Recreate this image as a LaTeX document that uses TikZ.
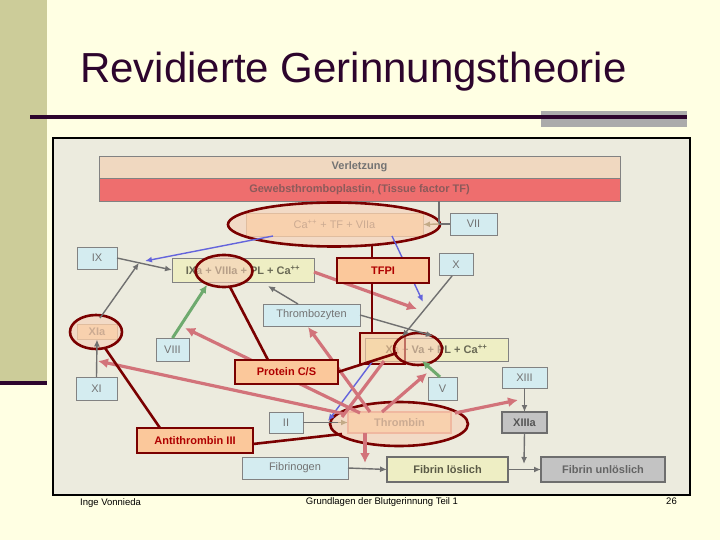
\documentclass[tikz,border=0pt]{standalone}
\usepackage{fontspec}
\setmainfont{Liberation Sans}
\usetikzlibrary{arrows.meta,calc,shapes.geometric}
\pgfdeclarelayer{fg}
\pgfsetlayers{main,fg}
\definecolor{bgc}{RGB}{255,255,227}
\definecolor{barc}{RGB}{204,204,153}
\definecolor{titlec}{RGB}{45,5,45}
\definecolor{framebg}{RGB}{236,235,222}
\definecolor{lblue}{RGB}{212,236,240}
\definecolor{peach}{RGB}{251,200,155}
\definecolor{ybox}{RGB}{238,238,196}
\definecolor{maroon}{RGB}{122,0,0}
\definecolor{dred}{RGB}{175,0,0}
\definecolor{salmon}{RGB}{210,115,122}
\definecolor{garr}{RGB}{112,112,112}
\definecolor{blarr}{RGB}{100,100,220}
\definecolor{grarr}{RGB}{110,170,110}
\definecolor{tanc}{RGB}{195,170,135}
\definecolor{ellfill}{RGB}{248,205,180}
\definecolor{verlc}{RGB}{240,216,192}
\definecolor{tfred}{RGB}{238,110,110}
\definecolor{greybox}{RGB}{195,195,195}
\definecolor{txtgray}{RGB}{115,115,115}
\definecolor{boxline}{RGB}{130,130,130}
\definecolor{olivetxt}{RGB}{105,105,85}
\definecolor{thrline}{RGB}{232,160,136}
\definecolor{thrfill}{RGB}{250,214,168}
\definecolor{gewtxt}{RGB}{140,90,90}
\definecolor{dgline}{RGB}{110,110,110}
\definecolor{dgtxt}{RGB}{85,85,85}
\definecolor{fltxt}{RGB}{90,90,70}
\definecolor{futxt}{RGB}{100,100,100}
\definecolor{elltxt}{RGB}{150,130,105}
\begin{document}
\begin{tikzpicture}[x=1pt,y=-1pt,
  font=\fontsize{11}{13}\selectfont,
  base/.style={rectangle, inner sep=0pt, outer sep=0pt, line width=0.8pt},
  bluebox/.style={base, draw=boxline, fill=lblue, text=txtgray},
  ybx/.style={base, draw=boxline, fill=ybox, text=olivetxt, font=\fontsize{11}{13}\selectfont\bfseries},
  redbox/.style={base, draw=maroon, line width=2.6pt, fill=peach, text=dred, font=\fontsize{11}{13}\selectfont\bfseries},
  ell/.style={ellipse, draw=maroon, line width=2.6pt, fill=ellfill, fill opacity=0.55, draw opacity=1, inner sep=0pt},
  gline/.style={draw=garr, line width=1.4pt},
  garrow/.style={gline, -{Latex[length=7pt,width=6pt]}},
  tanarr/.style={draw=tanc, line width=1.4pt, -{Latex[length=7pt,width=6pt]}},
  barrow/.style={draw=blarr, line width=1.4pt, -{Latex[length=7pt,width=6pt]}},
  grarrow/.style={draw=grarr, line width=3pt, -{Latex[length=8pt,width=8pt]}},
  sarrow/.style={draw=salmon, line width=3.2pt, -{Latex[length=10pt,width=10pt]}},
  sline/.style={draw=salmon, line width=3.2pt},
  inhib/.style={draw=maroon, line width=2.6pt}
]
\useasboundingbox (0,0) rectangle (720,540);
% background
\fill[bgc] (0,0) rectangle (720,540);
\fill[barc] (0,0) rectangle (47,381);
\fill[titlec] (0,381) rectangle (47,385);
% title
\node[anchor=base west, inner sep=0pt, text=titlec, font=\fontsize{42}{48}\selectfont] (title) at (80,83) {Revidierte Gerinnungstheorie};
\fill[black!33] (541,111) rectangle (687,127);
\draw[titlec, line width=4pt] (30,117) -- (687,117);
% frame
\draw[black, line width=1.3pt, fill=framebg] (53,138) rectangle (690,495);
% footer
\node[anchor=base west, inner sep=0pt, font=\fontsize{9.5}{11}\selectfont] (f1) at (80,505) {Inge Vonnieda};
\node[anchor=base, inner sep=0pt, font=\fontsize{9.5}{11}\selectfont] (f2) at (382,504) {Grundlagen der Blutgerinnung Teil 1};
\node[anchor=base east, inner sep=0pt, font=\fontsize{9.5}{11}\selectfont] (f3) at (677,504) {26};

% boxes
\node[base, draw=boxline, fill=verlc, text=txtgray, font=\fontsize{11}{13}\selectfont\bfseries, minimum width=521, minimum height=22] (verl) at (359.5,167) {Verletzung};
\node[base, draw=boxline, fill=tfred, text=gewtxt, font=\fontsize{11}{13}\selectfont\bfseries, minimum width=521, minimum height=23] (gewebs) at (359.5,189.5) {Gewebsthromboplastin, (Tissue factor TF)};
\node[base, draw=tanc, fill=thrfill, text=elltxt, minimum width=177, minimum height=23] (ca) at (334.5,224.5) {Ca\textsuperscript{++} + TF + VIIa};
\node[bluebox, minimum width=47, minimum height=22] (vii) at (473.5,224) {VII};
\node[bluebox, minimum width=40, minimum height=22] (ix) at (97,258) {IX};
\node[ybx, minimum width=142, minimum height=24] (ixa) at (243,270) {IXa + VIIIa + PL + Ca\textsuperscript{++}};
\node[bluebox, minimum width=34, minimum height=22] (xn) at (456,264.5) {X};
\node[bluebox, minimum width=97, minimum height=22] (thr) at (311.5,315) {Thrombozyten};
\node[base, draw=tanc, fill=thrfill, text=elltxt, font=\fontsize{11}{13}\selectfont\bfseries, minimum width=40, minimum height=15] (xia) at (97,332) {XIa};
\node[bluebox, minimum width=33, minimum height=23] (viii) at (172.5,349.5) {VIII};
\node[bluebox, minimum width=41, minimum height=23] (xi) at (96.5,388.5) {XI};
\node[ybx, minimum width=143, minimum height=23] (xava) at (436.5,349.5) {Xa + Va + PL + Ca\textsuperscript{++}};
\node[bluebox, minimum width=29, minimum height=23] (vn) at (442.5,388.5) {V};
\node[bluebox, minimum width=45, minimum height=21] (xiii) at (524.5,377.5) {XIII};
\node[base, draw=dgline, line width=2pt, fill=greybox, text=dgtxt, font=\fontsize{11}{13}\selectfont\bfseries, minimum width=45, minimum height=21] (xiiia) at (524.5,422.5) {XIIIa};
\node[bluebox, minimum width=34, minimum height=21] (ii) at (286,422.5) {II};
\node[base, draw=thrline, line width=2.2pt, fill=thrfill, text=elltxt, font=\fontsize{11}{13}\selectfont\bfseries, minimum width=103, minimum height=21] (thrombin) at (399.5,422.5) {Thrombin};
\node[bluebox, minimum width=106, minimum height=22] (fibrinogen) at (295,468) {Fibrinogen};
\node[base, draw=dgline, line width=2.6pt, fill=ybox, text=fltxt, font=\fontsize{11}{13}\selectfont\bfseries, minimum width=121, minimum height=25] (fibrinL) at (447.5,469.5) {Fibrin löslich};
\node[base, draw=dgline, line width=2.6pt, fill=greybox, text=futxt, font=\fontsize{11}{13}\selectfont\bfseries, minimum width=124, minimum height=25] (fibrinU) at (603,469.5) {Fibrin unlöslich};

% inhibitor boxes (drawn on foreground layer)
\begin{pgfonlayer}{fg}
\node[redbox, minimum width=92, minimum height=25] (tfpi) at (383,270.5) {TFPI};
\node[redbox, minimum width=103, minimum height=24] (protein) at (286.5,372) {Protein C/S};
\node[redbox, minimum width=116, minimum height=25] (anti) at (195,440.5) {Antithrombin III};
\end{pgfonlayer}

% TFPI rectangle around Xa
\node[base, draw=maroon, line width=2.6pt, fill=peach, fill opacity=0.6, draw opacity=1, minimum width=45, minimum height=31] (xarect) at (382.5,348.5) {};
% ellipses
\node[ell, minimum width=212, minimum height=44] (caell) at (334,224.5) {};
\node[ell, minimum width=57, minimum height=32] (ixaell) at (224,271) {};
\node[ell, minimum width=52, minimum height=34] (xiaell) at (96,332) {};
\node[ell, minimum width=48, minimum height=32] (vaell) at (418,349) {};
\node[ell, minimum width=138, minimum height=44] (thrombell) at (399,424) {};

% coordinates
\coordinate (gj) at (439,224);
\coordinate (m1s) at (100,318);
\coordinate (p5s) at (298,304);
\coordinate (p5e) at (268,286);
\coordinate (p6e) at (433,336);
\coordinate (p7s) at (452,276);
\coordinate (p7e) at (402,337);
\coordinate (fj) at (524,464);
\coordinate (b1s) at (273,236);
\coordinate (b1e) at (145,261);
\coordinate (b2s) at (392,236);
\coordinate (b2e) at (423,302);
\coordinate (b3s) at (372,362);
\coordinate (b3e) at (328,421);
\coordinate (gr1e) at (207,285);
\coordinate (gr2s) at (440,377);
\coordinate (gr2e) at (422,361);
\coordinate (s1s) at (314,272);
\coordinate (s1e) at (417,309);
\coordinate (s2s) at (360,413);
\coordinate (s2e) at (185,328);
\coordinate (s3s) at (345,414);
\coordinate (s3e) at (98,361);
\coordinate (s4s) at (370,412);
\coordinate (s4e) at (308,327);
\coordinate (s5s) at (382,412);
\coordinate (s5e) at (427,373);
\coordinate (s6s) at (455,413);
\coordinate (s6e) at (518,400);
\coordinate (s7s) at (365,433);
\coordinate (s7e) at (365,463);
\coordinate (s8s) at (342,417);
\coordinate (s8e) at (384,361);
\coordinate (t1) at (372,245);
\coordinate (t2) at (372,333);
\coordinate (i2s) at (268,360);
\coordinate (i2e) at (230,287);
\coordinate (i3e) at (397,353);
\coordinate (i4s) at (160,428);
\coordinate (i4e) at (105,348);
\coordinate (i5s) at (253,444);
\coordinate (i5e) at (342,434);

% gray connectors
\draw[gline] (gj |- gewebs.south) -- (gj);
\draw[gline] (vii.west) -- (gj);
\draw[tanarr] (gj) -- (ca.east);
\draw[garrow] (ix.east) -- (ixa.west);
\path (ix.east) -- (ixa.west) coordinate[pos=0.4] (m1);
\draw[garrow] (m1s) -- (m1);
\draw[garrow] (xi.north) -- (xia.south);
\draw[garrow] (p5s) -- (p5e);
\draw[garrow] (thr.east) -- (p6e);
\draw[garrow] (p7s) -- (p7e);
\draw[gline] (ii.east) -- ($(thrombin.west)+(-8,0)$);
\draw[tanarr] ($(thrombin.west)+(-10,0)$) -- (thrombin.west);
\draw[garrow] (fibrinogen.east) -- (fibrinL.west);
\draw[garrow] (fibrinL.east) -- (fibrinU.west);
\draw[garrow] (xiii.south) -- (xiiia.north);
\draw[garrow] (xiiia.south) -- (fj);
% blue
\draw[barrow] (b1s) -- (b1e);
\draw[barrow] (b2s) -- (b2e);
\draw[barrow] (b3s) -- (b3e);
% green
\draw[grarrow] (viii.north) -- (gr1e);
\draw[grarrow] (gr2s) -- (gr2e);
% salmon
\draw[sarrow] (s1s) -- (s1e);
\draw[sarrow] (s2s) -- (s2e);
\draw[sarrow] (s3s) -- (s3e);
\draw[sarrow] (s4s) -- (s4e);
\draw[sarrow] (s5s) -- (s5e);
\draw[sarrow] (s6s) -- (s6e);
\draw[sarrow] (s7s) -- (s7e);
\draw[sline] (s8s) -- (s8e);
% inhibitor lines
\draw[inhib] (t1) -- (t1 |- tfpi.north);
\draw[inhib] (t1 |- tfpi.south) -- (t2);
\draw[inhib] (i2s) -- (i2e);
\draw[inhib] (protein.east) -- (i3e);
\draw[inhib] (i4s) -- (i4e);
\draw[inhib] (i5s) -- (i5e);
\end{tikzpicture}
\end{document}
